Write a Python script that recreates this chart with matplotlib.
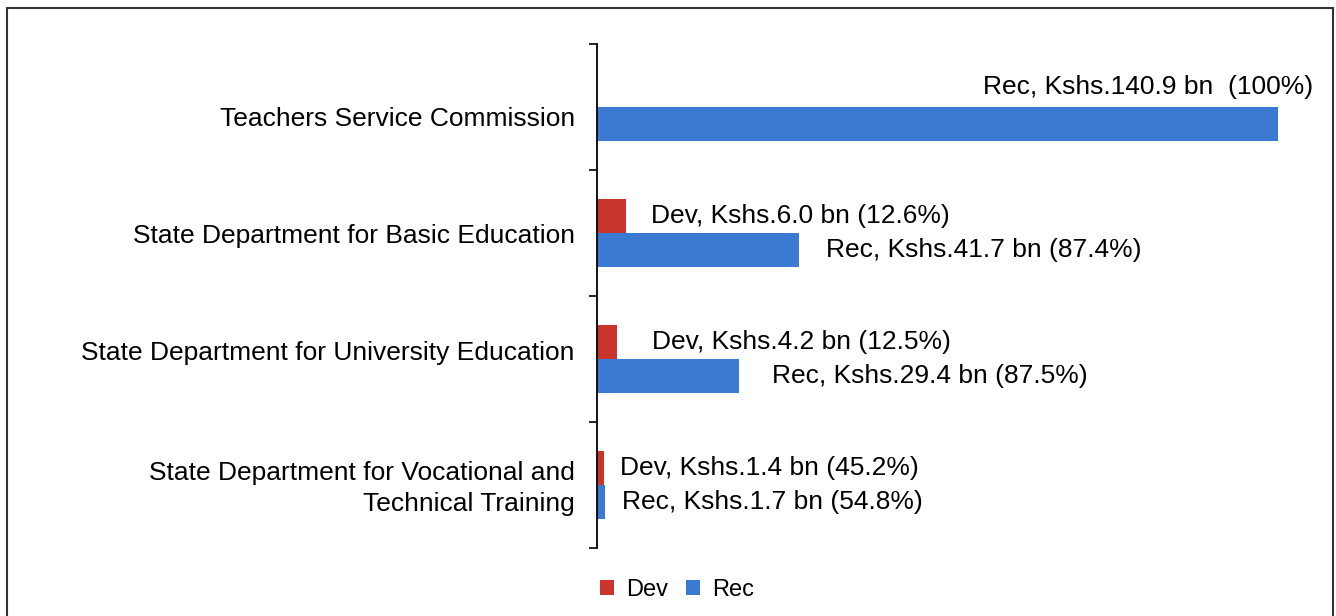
import matplotlib
matplotlib.use("Agg")
import matplotlib.pyplot as plt
import matplotlib.transforms as mtransforms
from matplotlib.patches import Rectangle
import numpy as np

plt.rcParams['font.family'] = ['Liberation Sans', 'DejaVu Sans']

categories = ["Teachers Service Commission",
              "State Department for Basic Education",
              "State Department for University Education",
              "State Department for Vocational and\nTechnical Training"]
dev_values = [0.0, 6.0, 4.2, 1.4]
rec_values = [140.9, 41.7, 29.4, 1.7]
dev_labels = [None, "Dev, Kshs.6.0 bn (12.6%)", "Dev, Kshs.4.2 bn (12.5%)", "Dev, Kshs.1.4 bn (45.2%)"]
rec_labels = ["Rec, Kshs.140.9 bn  (100%)", "Rec, Kshs.41.7 bn (87.4%)",
              "Rec, Kshs.29.4 bn (87.5%)", "Rec, Kshs.1.7 bn (54.8%)"]
dev_offsets = [0, 18, 25, 12]   # points
rec_offsets = [0, 20, 24, 12]
cat_label_shift = [-7, 0, 6, 2]  # points (vertical nudge of category labels)

DEV_COLOR = "#C9352C"
REC_COLOR = "#3A7AD2"

fig = plt.figure(figsize=(13.36, 6.16), dpi=100)
ax = fig.add_axes([597/1336, 1-548/616, (1278-597)/1336, (548-44)/616])

n = len(categories)
y = np.arange(n)
h = 0.27
ax.barh(y - h/2, dev_values, height=h, color=DEV_COLOR, label="Dev")
ax.barh(y + h/2, rec_values, height=h, color=REC_COLOR, label="Rec")

ax.set_xlim(0, max(rec_values))
ax.set_ylim(n - 0.5, -0.5)

fs = 19
for i in range(n):
    if dev_labels[i]:
        ax.annotate(dev_labels[i], (dev_values[i], y[i] - h/2), xytext=(dev_offsets[i], 0),
                    textcoords="offset points", va="center", ha="left", fontsize=fs)
    if i == 0:
        ax.annotate(rec_labels[i], (rec_values[i], y[i] + h/2), xytext=(25, 27),
                    textcoords="offset points", va="center", ha="right", fontsize=fs)
    else:
        ax.annotate(rec_labels[i], (rec_values[i], y[i] + h/2), xytext=(rec_offsets[i], 0),
                    textcoords="offset points", va="center", ha="left", fontsize=fs)

# ticks at band boundaries, labels at centres
ax.set_yticks(np.arange(-0.5, n, 1.0))
ax.set_yticklabels([])
ax.tick_params(axis='y', which='major', length=6, width=1.2, direction='out')
ax.set_yticks(y, minor=True)
ax.set_yticklabels(categories, minor=True, fontsize=fs, ha='right', linespacing=1.4)
ax.tick_params(axis='y', which='minor', length=0, pad=16)
for lbl, dy in zip(ax.get_yticklabels(minor=True), cat_label_shift):
    lbl.set_transform(lbl.get_transform() +
                      mtransforms.ScaledTranslation(0, dy/72, fig.dpi_scale_trans))
ax.set_xticks([])
for s in ['top', 'right', 'bottom']:
    ax.spines[s].set_visible(False)
ax.spines['left'].set_linewidth(1.3)

leg = fig.legend(loc='center', bbox_to_anchor=(677/1336, 1-590/616), ncol=2, frameon=False,
                 fontsize=17, handlelength=0.6, handleheight=0.6, handletextpad=0.5,
                 columnspacing=0.75)

fig.patches.append(Rectangle((7/1336, -0.05), (1333-7)/1336, 1.05 - 8/616,
                             transform=fig.transFigure, fill=False, edgecolor='#333333',
                             linewidth=1.5))

fig.savefig("out.png", dpi=100, facecolor='white')
